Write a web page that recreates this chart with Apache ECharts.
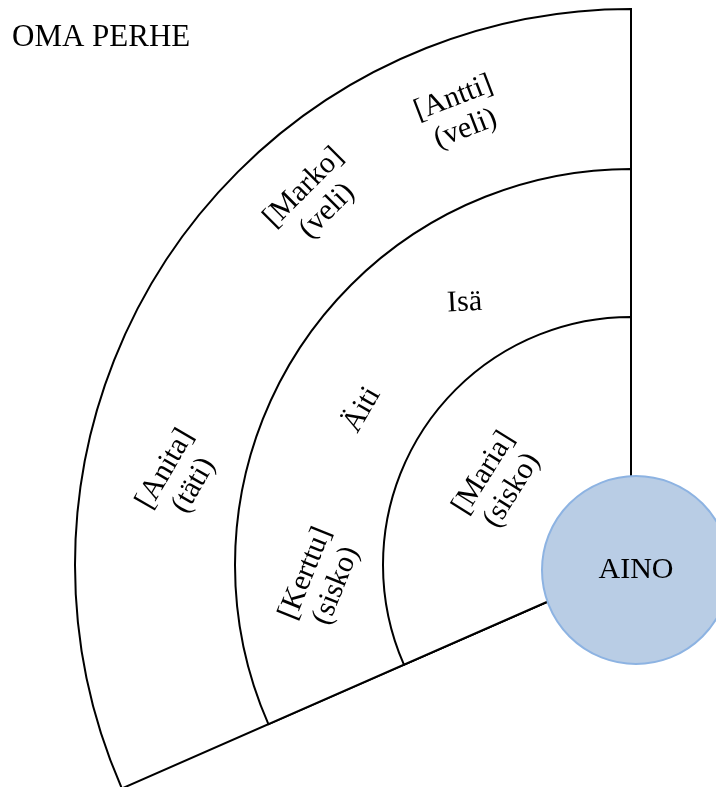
<!DOCTYPE html>
<html>
<head>
<meta charset="utf-8">
<script src="https://cdn.jsdelivr.net/npm/echarts@6/dist/echarts.min.js"></script>
<style>
  html, body { margin: 0; padding: 0; background: #fff; }
  #chart { width: 716px; height: 787px; }
</style>
</head>
<body>
<div id="chart"></div>
<script>
// kuka on missäkin kehässä ja millä kulmalla (asteina, 90 = ylhäällä, kasvaa vasemmalle)
var centerName = 'AINO';
var outerNames = ['[Antti]\n(veli)', '[Marko]\n(veli)', '[Anita]\n(täti)'];
var outerAngles = [110.8, 130.8, 169];
var middleNames = ['Isä', 'Äiti', '[Kerttu]\n(sisko)'];
var middleAngles = [122.4, 150, 182.7];
var innerNames = ['[Maria]\n(sisko)'];
var innerAngles = [148];
var fanStart = 90;
var fanEnd = 203.7;

var font = 'Liberation Serif';
var cx = 631, cy = 565;

// tekstien kierto (astetta)
var outerTurn = [21, 45, 60];
var middleTurn = [3, 60, 68];
var innerTurn = [58];

function labelData(names, angles, turns) {
    var data = [], prev = fanStart;
    for (var i = 0; i < names.length; i++) {
        data.push({name: '', value: angles[i] - 1 - prev});
        data.push({name: names[i], value: 2, label: {show: true, rotate: turns[i]}});
        prev = angles[i] + 1;
    }
    data.push({name: '', value: fanStart + 360 - prev});
    return data;
}

function ring(r) {
    return {
        type: 'pie',
        center: [cx, cy],
        radius: [0, r],
        startAngle: fanStart,
        clockwise: false,
        silent: true,
        label: {show: false},
        labelLine: {show: false},
        data: [
            {name: 'kehä', value: fanEnd - fanStart,
             itemStyle: {color: '#fff', borderColor: '#000', borderWidth: 2, borderJoin: 'miter'}},
            {name: 'muu', value: 360 - (fanEnd - fanStart),
             itemStyle: {color: 'transparent', borderWidth: 0}}
        ]
    };
}

function labels(r0, r, names, angles, turns) {
    return {
        type: 'pie',
        center: [cx, cy],
        radius: [r0, r],
        startAngle: fanStart,
        clockwise: false,
        silent: true,
        itemStyle: {color: 'transparent', borderWidth: 0},
        label: {
            show: false,
            position: 'inside',
            color: '#000',
            fontFamily: font,
            fontSize: 30,
            lineHeight: 33
        },
        labelLine: {show: false},
        data: labelData(names, angles, turns)
    };
}

var myChart = echarts.init(document.getElementById('chart'));
var option = {
    animation: false,
    backgroundColor: '#fff',
    title: {
        text: 'OMA PERHE',
        left: 7,
        top: 17,
        textStyle: {fontFamily: font, fontSize: 31, fontWeight: 'normal', color: '#000'}
    },
    series: [
        ring(556),
        ring(396),
        ring(248),
        labels(400, 560, outerNames.slice(0, 2), outerAngles.slice(0, 2), outerTurn.slice(0, 2)),
        labels(400, 514, outerNames.slice(2), outerAngles.slice(2), outerTurn.slice(2)),
        labels(240, 375, middleNames, middleAngles, middleTurn),
        labels(60, 248, innerNames, innerAngles, innerTurn),
        {
            type: 'pie',
            center: [636, 570],
            radius: [0, 94],
            silent: true,
            itemStyle: {color: '#b9cde5', borderColor: '#8db3e2', borderWidth: 2},
            label: {
                show: true,
                position: 'center',
                formatter: '{b}',
                color: '#000',
                fontFamily: font,
                fontSize: 30
            },
            labelLine: {show: false},
            data: [{name: centerName, value: 1}]
        }
    ]
};
myChart.setOption(option);
</script>
</body>
</html>
